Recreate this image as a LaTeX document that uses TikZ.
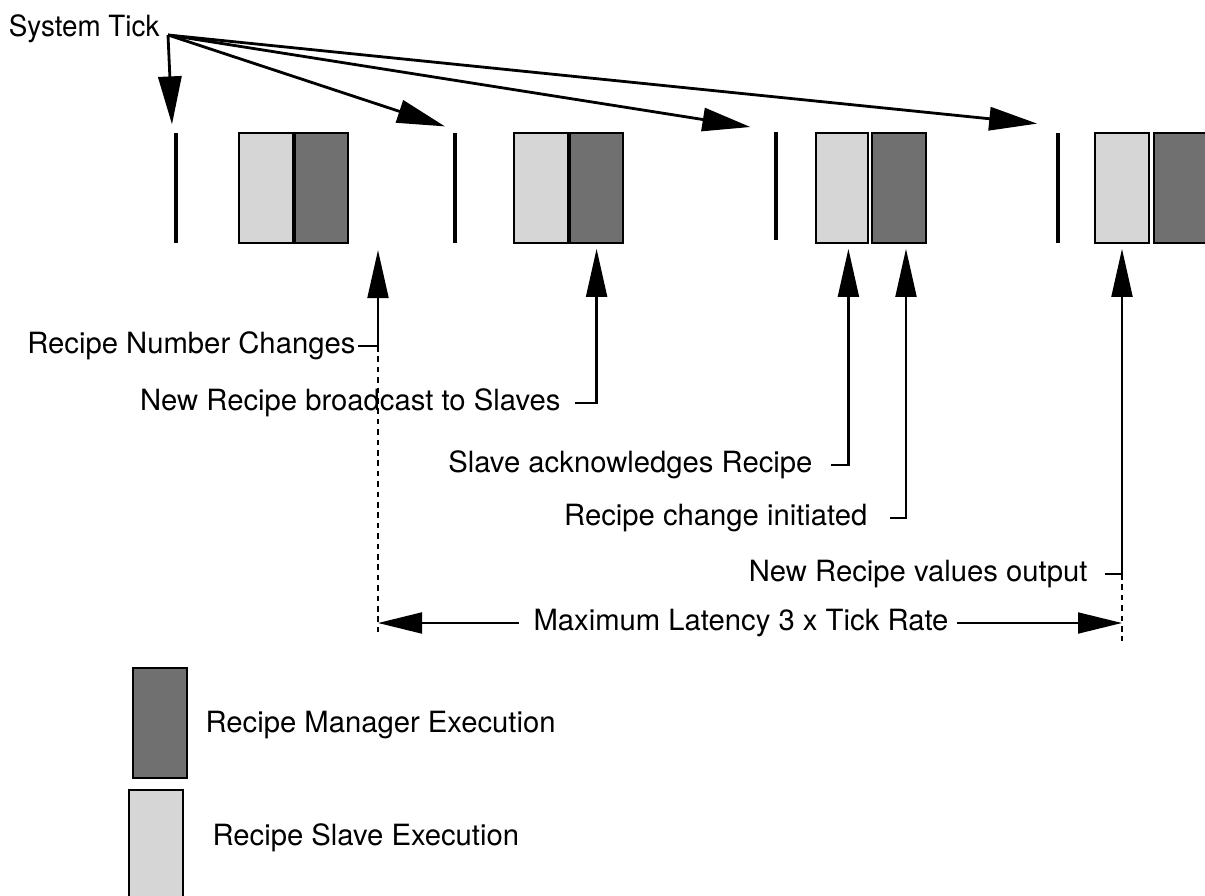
\documentclass[tikz,border=0pt]{standalone}
\usepackage{fontspec}
\setmainfont{TeX Gyre Heros}
\usetikzlibrary{arrows.meta, positioning, calc}
\definecolor{slavegray}{RGB}{214, 214, 214}
\definecolor{mgrgray}{RGB}{112, 112, 112}

\begin{document}
\begin{tikzpicture}[
  x=0.0125cm, y=-0.0125cm,
  font=\fontsize{10.4}{12.5}\selectfont,
  tickmark/.style={rectangle, fill=black, inner sep=0pt, minimum width=0.055cm, minimum height=1.375cm},
  slavebox/.style={rectangle, draw=black, line width=0.7pt, fill=slavegray, inner sep=0pt,
                   minimum width=0.67cm, minimum height=1.375cm},
  mgrbox/.style={slavebox, fill=mgrgray},
  lbl/.style={inner sep=0pt, anchor=east},
  sysarr/.style={-{Triangle[length=0.6cm, width=0.29cm]}, line width=1pt},
  uparr/.style={-{Triangle[length=0.6cm, width=0.26cm]}, line width=0.9pt},
  latarr/.style={-{Triangle[length=0.55cm, width=0.26cm]}, line width=0.9pt},
  dashln/.style={line width=0.9pt, dash pattern=on 0.07cm off 0.06cm}
]
  \useasboundingbox (0,0) rectangle (1205,896);

  \node[anchor=base east, inner sep=0pt, xscale=0.95] (systick) at (160,37) {System Tick};
  \coordinate (src) at (168,35);

  \node[tickmark] (t1) at (176,188) {};
  \node[slavebox] (s1) at (266,188) {};
  \node[mgrbox, right=0pt of s1] (m1) {};
  \node[tickmark] (t2) at (455,188) {};
  \node[slavebox] (s2) at (541,188) {};
  \node[mgrbox, right=0pt of s2] (m2) {};
  \node[tickmark, minimum height=1.34cm] (t3) at (776,186) {};
  \node[slavebox, minimum width=0.64cm] (s3) at (842,188) {};
  \node[mgrbox, right=0.03cm of s3] (m3) {};
  \node[tickmark] (t4) at (1058,188) {};
  \node[slavebox] (s4) at (1122,188) {};
  \node[mgrbox, right=0.04cm of s4] (m4) {};

  \draw[sysarr] (src) -- ([xshift=-0.05cm, yshift=0.1cm]t1.north);
  \draw[sysarr] (src) -- ([xshift=-0.125cm, yshift=0.075cm]t2.north);
  \draw[sysarr] (src) -- ([xshift=-0.32cm, yshift=0.06cm]t3.north);
  \draw[sysarr] (src) -- ([xshift=-0.26cm, yshift=0.11cm]t4.north);

  \coordinate (rchg) at (378,250);
  \node[lbl] (rnum) at (356,346) {Recipe Number Changes};
  \node[lbl] (bcast) at (561,403) {New Recipe broadcast to Slaves};
  \node[lbl] (ack) at (813,465) {Slave acknowledges Recipe};
  \node[lbl] (init) at (868,518) {Recipe change initiated};
  \node[lbl] (out) at (1088,574) {New Recipe values output};

  \draw[uparr] ([xshift=0.03cm]rnum.east) -| (rchg);
  \draw[uparr] ([xshift=0.17cm]bcast.east) -| ([yshift=-0.06cm]m2.south);
  \draw[uparr] ([xshift=0.23cm]ack.east) -| ([xshift=0.08cm, yshift=-0.06cm]s3.south);
  \draw[uparr] ([xshift=0.27cm]init.east) -| ([xshift=0.09cm, yshift=-0.06cm]m3.south);
  \draw[uparr] ([xshift=0.21cm]out.east) -| ([yshift=-0.06cm]s4.south);

  \coordinate (latL) at (378,623);
  \coordinate (latR) at (1122,623);
  \draw[dashln] (rchg |- rnum.east) -- ([yshift=-0.16cm]latL);
  \draw[dashln] (latR |- out.east) -- ([yshift=-0.22cm]latR);

  \node[inner sep=0pt, fill=white] (lat) at (741,623) {Maximum Latency 3 x Tick Rate};
  \draw[latarr] ([xshift=-0.18cm]lat.west) -- (latL);
  \draw[latarr] ([xshift=0.1cm]lat.east) -- (latR);

  \node[mgrbox] (legm) at (160,723) {};
  \node[slavebox, below=0.13cm of legm, xshift=-0.05cm] (legs) {};
  \node[anchor=west, inner sep=0pt] (legmtxt) at (205,725) {Recipe Manager Execution};
  \node[anchor=west, inner sep=0pt] (legstxt) at (212,838) {Recipe Slave Execution};
\end{tikzpicture}
\end{document}
